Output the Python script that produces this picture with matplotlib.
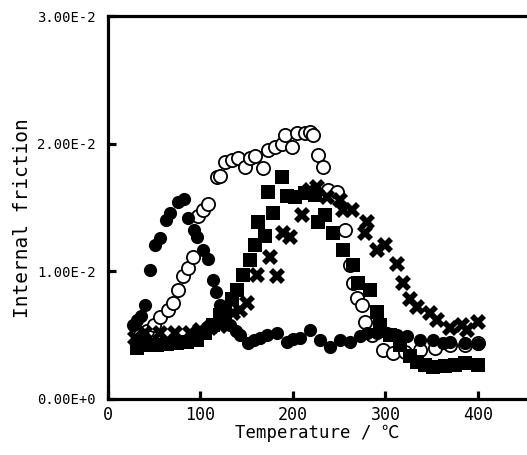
import matplotlib
matplotlib.use("Agg")
import matplotlib.pyplot as plt

plt.rcParams['font.family'] = ['DejaVu Sans Mono', 'Noto Sans CJK JP']

# Filled circles
fc_t = [27, 31, 36, 40, 45, 51, 56, 63, 67, 76, 82, 86, 93, 96, 103, 108, 113, 117, 121,
        127, 132, 138, 143, 151, 158, 164, 172, 183, 193, 200, 208, 218, 229, 240, 251,
        262, 272, 280, 291, 302, 312, 323, 337, 351, 362, 370, 386, 400]
fc_v = [0.0058, 0.0062, 0.0065, 0.0074, 0.0101, 0.0121, 0.0126, 0.0140, 0.0146, 0.0154,
        0.0157, 0.0142, 0.0132, 0.0127, 0.0117, 0.0110, 0.0093, 0.0084, 0.0074,
        0.0064, 0.0058, 0.0053, 0.0050, 0.0044, 0.0046, 0.0048, 0.0050, 0.0052, 0.0045,
        0.0047, 0.0048, 0.0054, 0.0046, 0.0041, 0.0046, 0.0045, 0.0049, 0.0052, 0.0052,
        0.0052, 0.0050, 0.0049, 0.0046, 0.0046, 0.0044, 0.0045, 0.0044, 0.0043]

# Open circles
oc_t = [35, 42, 50, 56, 65, 70, 76, 81, 86, 92, 97, 103, 108, 118, 121, 126, 134, 141, 148,
        154, 159, 168, 173, 181, 188, 191, 199, 204, 213, 218, 222, 227, 232, 238, 248,
        256, 262, 265, 269, 275, 278, 285, 297, 308, 321, 337, 354, 370, 386, 400]
oc_v = [0.0050, 0.0053, 0.0058, 0.0064, 0.0070, 0.0075, 0.0085, 0.0096, 0.0103, 0.0111,
        0.0143, 0.0148, 0.0153, 0.0174, 0.0175, 0.0186, 0.0187, 0.0189, 0.0182, 0.0189,
        0.0190, 0.0181, 0.0195, 0.0197, 0.0200, 0.0207, 0.0197, 0.0208, 0.0208, 0.0209,
        0.0207, 0.0191, 0.0182, 0.0164, 0.0162, 0.0132, 0.0105, 0.0091, 0.0079, 0.0074,
        0.0060, 0.0050, 0.0038, 0.0036, 0.0037, 0.0038, 0.0040, 0.0042, 0.0042, 0.0044]

# Filled squares
sq_t = [31, 42, 53, 64, 75, 85, 96, 105, 114, 121, 126, 134, 139, 146, 153, 159, 162, 170,
        173, 178, 188, 194, 202, 213, 224, 227, 235, 243, 254, 265, 270, 283, 291, 294,
        305, 316, 326, 334, 343, 351, 364, 375, 386, 400]
sq_v = [0.0040, 0.0042, 0.0042, 0.0043, 0.0044, 0.0045, 0.0046, 0.0052, 0.0058, 0.0066,
        0.0071, 0.0078, 0.0085, 0.0097, 0.0109, 0.0121, 0.0139, 0.0128, 0.0162, 0.0146,
        0.0174, 0.0159, 0.0158, 0.0161, 0.0160, 0.0139, 0.0144, 0.0130, 0.0117, 0.0105,
        0.0091, 0.0085, 0.0068, 0.0058, 0.0050, 0.0042, 0.0034, 0.0029, 0.0027, 0.0025,
        0.0026, 0.0027, 0.0028, 0.0027]

# Crosses
xx_t = [29, 40, 56, 72, 89, 99, 110, 121, 135, 143, 150, 161, 175, 183, 189, 197, 210, 218,
        226, 237, 251, 254, 264, 278, 280, 291, 299, 312, 319, 326, 334, 348, 356, 370,
        383, 388, 400]
xx_v = [0.0048, 0.0052, 0.0052, 0.0052, 0.0052, 0.0054, 0.0056, 0.0057, 0.0067, 0.0070,
        0.0075, 0.0097, 0.0111, 0.0096, 0.0130, 0.0127, 0.0144, 0.0164, 0.0166, 0.0158,
        0.0156, 0.0148, 0.0148, 0.0130, 0.0139, 0.0117, 0.0121, 0.0106, 0.0091, 0.0078,
        0.0072, 0.0067, 0.0062, 0.0056, 0.0058, 0.0054, 0.0060]

y_ticks = [0.0, 0.01, 0.02, 0.03]
y_ticklabels = ['0.00E+0', '1.00E-2', '2.00E-2', '3.00E-2']
x_ticks = [0, 100, 200, 300, 400]

fig = plt.figure(figsize=(5.27, 4.55), dpi=100)
ax = fig.add_axes([108/527, 56/455, 1 - 108/527, 383/455])

ax.plot(oc_t, oc_v, 'o', ms=9.5, mfc='white', mec='black', mew=1.3, ls='none', zorder=2)
ax.plot(xx_t, xx_v, 'X', ms=11, mfc='black', mec='black', mew=0, ls='none', zorder=3)
ax.plot(sq_t, sq_v, 's', ms=10.5, mfc='black', mec='black', mew=0, ls='none', zorder=4)
ax.plot(fc_t, fc_v, 'o', ms=9.5, mfc='black', mec='black', mew=0, ls='none', zorder=5)

ax.set_xlim(0, 453)
ax.set_ylim(0, 0.03)
ax.set_xticks(x_ticks)
ax.set_xticklabels([str(t) for t in x_ticks], fontsize=12)
ax.set_yticks(y_ticks)
ax.set_yticklabels(y_ticklabels, fontsize=10)

for s in ['left', 'bottom', 'top']:
    ax.spines[s].set_linewidth(2.3)
ax.spines['right'].set_visible(False)
ax.tick_params(axis='both', direction='in', length=6, width=2.3, top=False, right=False)
ax.tick_params(axis='x', pad=5)
ax.tick_params(axis='y', pad=9)

ax.set_xlabel('Temperature / ℃', fontsize=12.5, labelpad=0)
ax.set_ylabel('Internal friction', fontsize=14)
ax.yaxis.set_label_coords(-0.181, 0.473)

fig.savefig('out.png', dpi=100)
